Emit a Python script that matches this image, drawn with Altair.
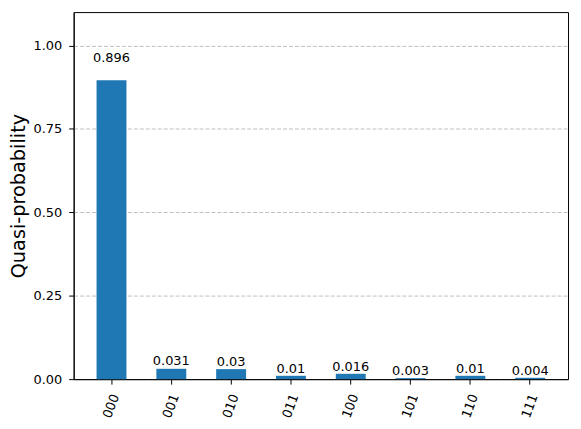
import altair as alt
import pandas as pd

states = ["000", "001", "010", "011", "100", "101", "110", "111"]
probs = [0.896, 0.031, 0.03, 0.01, 0.016, 0.003, 0.01, 0.004]
labels = ["0.896", "0.031", "0.03", "0.01", "0.016", "0.003", "0.01", "0.004"]
y_ticks = [0.0, 0.25, 0.5, 0.75, 1.0]

df = pd.DataFrame({"state": states, "prob": probs, "label": labels})

FONT = "DejaVu Sans"

x = alt.X(
    "state:N",
    sort=states,
    scale=alt.Scale(paddingInner=0.5, paddingOuter=0.383),
    axis=alt.Axis(
        title=None,
        labelAngle=290,
        labelAlign="right",
        labelBaseline="middle",
        labelOffset=4,
        labelPadding=10,
        labelFontSize=13,
        labelColor="black",
        tickColor="black",
        tickSize=5,
        domainColor="black",
        grid=False,
    ),
)

bars = alt.Chart(df).mark_bar(color="#1f77b4").encode(
    x=x,
    y=alt.Y(
        "prob:Q",
        scale=alt.Scale(domain=[0, 1.1], nice=False),
        axis=alt.Axis(
            title="Quasi-probability",
            titleFontSize=19.4,
            titleFontWeight="normal",
            titleColor="black",
            titlePadding=4,
            values=y_ticks,
            format=".2f",
            labelFontSize=13,
            labelColor="black",
            labelPadding=7,
            tickColor="black",
            tickSize=5,
            domainColor="black",
            grid=True,
            gridColor="#b0b0b0",
            gridDash=[4, 2],
            gridWidth=0.8,
        ),
    ),
)

text = alt.Chart(df).transform_calculate(
    ypos="datum.prob * 1.05"
).mark_text(baseline="bottom", align="center", fontSize=13, color="black").encode(
    x=alt.X("state:N", sort=states),
    y=alt.Y("ypos:Q"),
    text="label:N",
)

chart = (
    alt.layer(bars, text)
    .properties(width=497, height=369, padding={"left": 1, "top": 3, "right": 5, "bottom": 5})
    .configure(font=FONT)
    .configure_view(stroke="black", strokeWidth=1)
    .configure_axis(labelFont=FONT, titleFont=FONT)
)

chart.save("out.html", embed_options={"renderer": "svg", "actions": False})
